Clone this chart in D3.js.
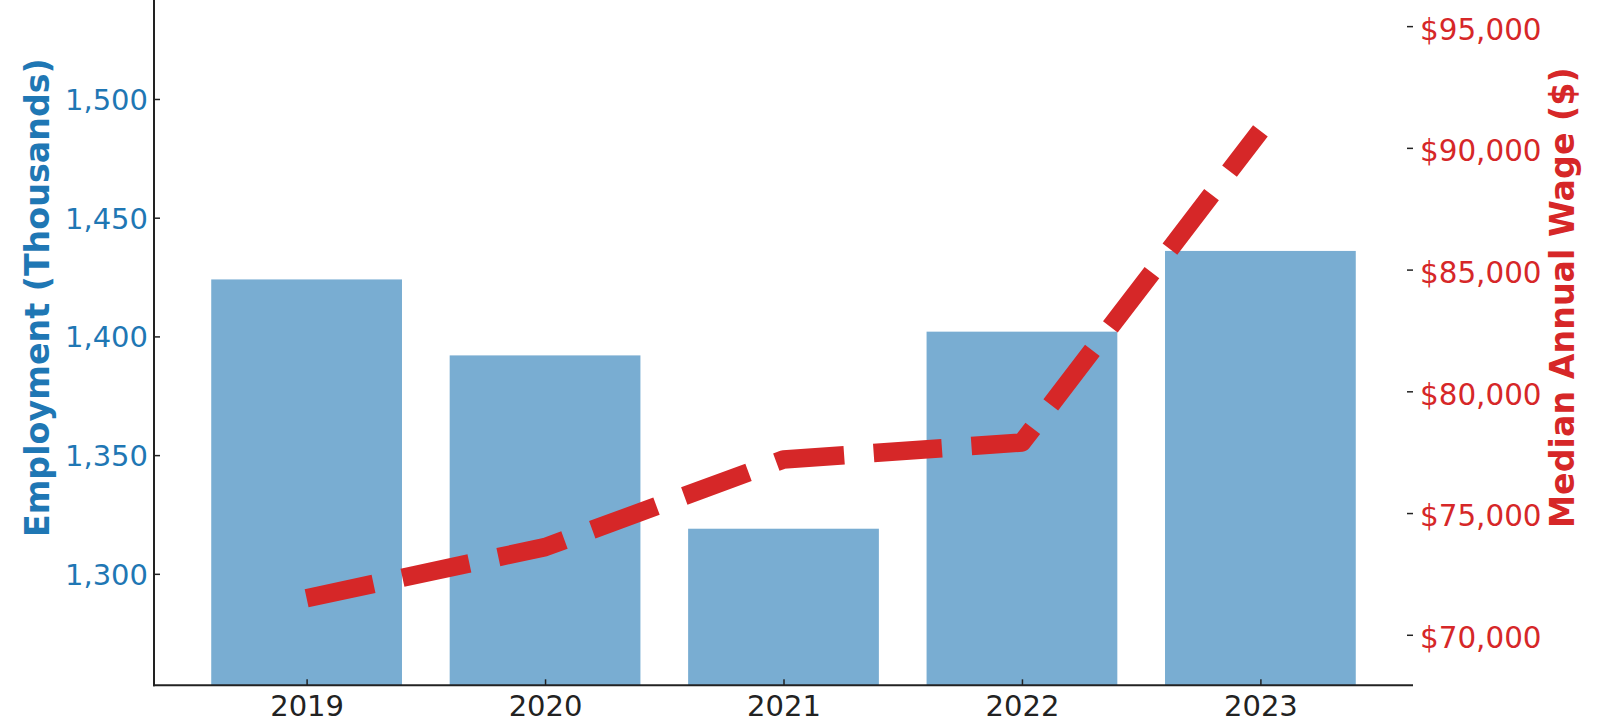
<!DOCTYPE html>
<html>
<head>
<meta charset="utf-8">
<script src="https://cdn.jsdelivr.net/npm/d3@7"></script>
<style>
  html, body { margin: 0; padding: 0; background: #fff; }
  svg { display: block; font-family: "DejaVu Sans", sans-serif; }
</style>
</head>
<body>
<svg id="chart" width="1600" height="724"></svg>
<script>
// ---- data ----
const years = ["2019", "2020", "2021", "2022", "2023"];
const employment = [1424, 1392, 1319, 1402, 1436];          // thousands
const medianWage = [71500, 73600, 77200, 77900, 90700];     // dollars
const employmentTicks = [1300, 1350, 1400, 1450, 1500];
const wageTicks = [70000, 75000, 80000, 85000, 90000, 95000];

// ---- layout ----
const plotL = 154, plotR = 1413, plotT = -90, plotB = 685.3;
const blue = "#1f77b4", red = "#d62728", ink = "#222222";
const labelFont = 33.3;

const svg = d3.select("#chart");

const x = d3.scaleLinear().domain([-0.64, years.length - 1 + 0.64]).range([plotL, plotR]);
const yL = d3.scaleLinear()
  .domain([d3.min(employment) * 0.95, d3.max(employment) * 1.1])
  .range([plotB, plotT]);
const yR = d3.scaleLinear()
  .domain([d3.min(medianWage) * 0.95, d3.max(medianWage) * 1.1])
  .range([plotB, plotT]);

const barW = x(0.4) - x(-0.4);

// bars
svg.append("g").selectAll("rect")
  .data(employment)
  .join("rect")
  .attr("x", (d, i) => x(i) - barW / 2)
  .attr("width", barW)
  .attr("y", d => yL(d))
  .attr("height", d => plotB - yL(d))
  .attr("fill", blue)
  .attr("fill-opacity", 0.6);

// line
const lw = 18.5;
const line = d3.line().x((d, i) => x(i)).y(d => yR(d));
svg.append("path")
  .datum(medianWage)
  .attr("d", line)
  .attr("fill", "none")
  .attr("stroke", red)
  .attr("stroke-width", lw)
  .attr("stroke-dasharray", `${3.7 * lw},${1.6 * lw}`)
  .attr("stroke-linejoin", "round")
  .attr("stroke-linecap", "butt");

// left axis
const axL = d3.axisLeft(yL).tickValues(employmentTicks)
  .tickFormat(d3.format(",")).tickSizeInner(-6).tickSizeOuter(0).tickPadding(6);
const gL = svg.append("g").attr("transform", `translate(${plotL},0)`).call(axL);
gL.select(".domain").remove();
gL.selectAll(".tick line").attr("stroke", ink).attr("stroke-width", 1.5);
gL.selectAll(".tick text").attr("fill", blue).attr("font-size", 29)
  .attr("font-family", "DejaVu Sans").attr("dy", "0.36em");
svg.append("line").attr("x1", plotL).attr("x2", plotL).attr("y1", 0).attr("y2", plotB + 1)
  .attr("stroke", ink).attr("stroke-width", 2);

// right axis
const axR = d3.axisRight(yR).tickValues(wageTicks)
  .tickFormat(d => "$" + d3.format(",")(d)).tickSizeInner(-6).tickSizeOuter(0).tickPadding(7);
const gR = svg.append("g").attr("transform", `translate(${plotR},0)`).call(axR);
gR.select(".domain").remove();
gR.selectAll(".tick line").attr("stroke", ink).attr("stroke-width", 1.5);
gR.selectAll(".tick text").attr("fill", red).attr("font-size", 29.4)
  .attr("font-family", "DejaVu Sans").attr("dy", "0.44em");

// bottom axis
const axB = d3.axisBottom(x).tickValues(d3.range(years.length))
  .tickFormat(i => years[i]).tickSizeInner(-6).tickSizeOuter(0).tickPadding(0);
const gB = svg.append("g").attr("transform", `translate(0,${plotB})`).call(axB);
gB.select(".domain").remove();
gB.selectAll(".tick line").attr("stroke", ink).attr("stroke-width", 1.5);
gB.selectAll(".tick text").attr("fill", ink).attr("font-size", 29)
  .attr("font-family", "DejaVu Sans").attr("y", 31).attr("dy", 0);
svg.append("line").attr("x1", plotL - 1).attr("x2", plotR).attr("y1", plotB).attr("y2", plotB)
  .attr("stroke", ink).attr("stroke-width", 2);

// axis titles
const midY = (plotT + plotB) / 2;
svg.append("text")
  .attr("transform", `translate(49,${midY}) rotate(-90)`)
  .attr("text-anchor", "middle")
  .attr("font-size", labelFont).attr("font-weight", "bold")
  .attr("fill", blue)
  .text("Employment (Thousands)");
svg.append("text")
  .attr("transform", `translate(1574,${midY}) rotate(-90)`)
  .attr("text-anchor", "middle")
  .attr("font-size", labelFont).attr("font-weight", "bold")
  .attr("fill", red)
  .text("Median Annual Wage ($)");
</script>
</body>
</html>
